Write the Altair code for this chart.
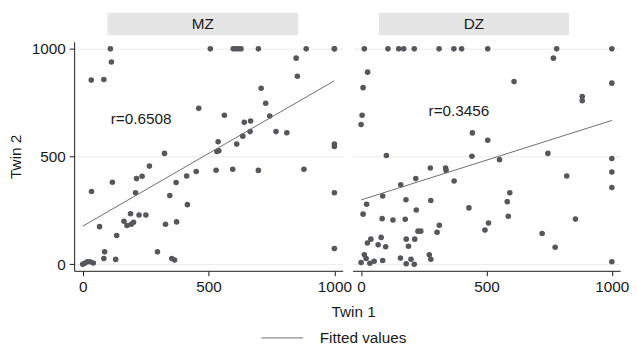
import altair as alt
import pandas as pd

# ---------------- data ----------------
panels = ["MZ", "DZ"]

mz_x = [110, 114, 34, 84, 507, 598, 609, 619, 629, 698, 888, 1000, 1000,
        848, 853, 709, 727, 743, 811, 768, 665, 667, 642, 636, 612, 563, 538, 533, 541, 461,
        530, 596, 698, 879, 1000, 1000, 1000, 1000,
        325, 265, 236, 214, 118, 210, 35, 67, 164, 190, 176, 193, 202, 224, 251, 135,
        371, 413, 451, 346, 416, 329, 373, 87, 84, 131, 297, 354, 365, 0, 8, 18, 29, 42]
mz_y = [1000, 939, 855, 858, 1000, 1000, 1000, 1000, 1000, 1000, 1000, 1000, 1000,
        957, 873, 817, 748, 688, 611, 616, 616, 665, 659, 595, 558, 692, 569, 524, 527, 724,
        437, 441, 436, 441, 558, 547, 332, 73,
        515, 456, 409, 398, 381, 332, 338, 175, 200, 235, 180, 186, 195, 229, 229, 134,
        380, 410, 431, 319, 277, 186, 197, 58, 27, 23, 58, 27, 20, 0, 5, 12, 12, 6]

dz_x = [13, 107, 150, 170, 212, 311, 370, 401, 505, 780, 1000,
        767, 26, 8, 610, 1000, 4, 0, 882, 882, 444, 505, 101, 442, 552, 745,
        1000, 1000, 1000, 820, 276, 337, 339, 371, 218, 158, 86, 22, 8, 179, 278,
        220, 430, 593, 583, 587, 855, 84, 127, 176, 508, 494, 312, 303, 227, 238,
        722, 774, 39, 25, 80, 68, 98, 180, 214, 189, 13, 20, 0, 35, 52, 86, 157,
        199, 180, 212, 272, 278, 1000]
dz_y = [1000, 1000, 1000, 1000, 1000, 1000, 1000, 1000, 1000, 1000, 1000,
        957, 892, 820, 848, 841, 692, 649, 779, 759, 610, 576, 505, 502, 486, 515,
        491, 428, 357, 410, 447, 447, 436, 387, 398, 369, 317, 279, 233, 300, 296,
        252, 262, 332, 291, 223, 210, 212, 206, 209, 192, 159, 181, 149, 154, 154,
        143, 79, 117, 99, 125, 91, 82, 117, 117, 84, 44, 27, 8, 5, 14, 18, 29,
        24, 3, 0, 44, 24, 12]

fit_x = [0, 1000]
mz_fit_y = [177, 852]
dz_fit_y = [299, 668]

r_labels = ["r=0.6508", "r=0.3456"]
r_pos_x = [111, 269]
r_pos_y = [676, 713]

tick_values = [0, 500, 1000]
x_title = "Twin 1"
y_title = "Twin 2"
legend_label = "Fitted values"

# ---------------- style ----------------
FONT = "Liberation Sans"
PT = "#55575b"
LINE = "#6e6e6e"
GRID = "#ebebeb"
INK = "#1a1a1a"
STRIP = "#e5e5e5"
FS = 15.5

xdom = [-34, 1033]
ydom = [-30, 1033]
H = 232


def panel(name, xs, ys, fy, rlab, rx, ry, width, sx, sx2, first):
    pts = pd.DataFrame({"t1": xs, "t2": ys})
    fit = pd.DataFrame({"t1": fit_x, "t2": fy})
    xsc = alt.Scale(domain=xdom, nice=False, zero=False)
    ysc = alt.Scale(domain=ydom, nice=False, zero=False)
    xax = alt.Axis(values=tick_values, title=None, labelFlush=False, grid=False,
                   labelOverlap=False, format="d")
    if first:
        yax = alt.Axis(values=tick_values, title=y_title, grid=True,
                       labelOverlap=False, format="d")
    else:
        yax = alt.Axis(values=tick_values, title=None, labels=False, ticks=False,
                       domain=False, grid=True)

    layers = []
    layers.append(
        alt.Chart(pts).mark_circle(size=32, color=PT, opacity=1).encode(
            x=alt.X("t1:Q", scale=xsc, axis=xax),
            y=alt.Y("t2:Q", scale=ysc, axis=yax),
        )
    )
    layers.append(
        alt.Chart(fit).mark_line(color=LINE, strokeWidth=1).encode(
            x="t1:Q", y="t2:Q"
        )
    )
    layers.append(
        alt.Chart(pd.DataFrame({"t1": [rx], "t2": [ry], "lab": [rlab]}))
        .mark_text(align="left", baseline="middle", fontSize=FS, font=FONT, color=INK)
        .encode(x="t1:Q", y="t2:Q", text="lab:N")
    )
    sdf = pd.DataFrame({"p": [name]})
    layers.append(
        alt.Chart(sdf).mark_rect(color=STRIP).encode(
            x=alt.value(sx), x2=alt.value(sx2), y=alt.value(-29.3), y2=alt.value(-6.7)
        )
    )
    layers.append(
        alt.Chart(sdf).mark_text(align="center", baseline="middle", fontSize=FS,
                                 font=FONT, color=INK).encode(
            x=alt.value((sx + sx2) / 2), y=alt.value(-17.5), text="p:N"
        )
    )
    if first:
        layers.append(
            alt.Chart(pd.DataFrame({"t": [x_title]})).mark_text(
                align="center", baseline="middle", fontSize=FS, font=FONT, color=INK
            ).encode(x=alt.value(283), y=alt.value(274), text="t:N")
        )
        layers.append(
            alt.Chart(pd.DataFrame({"t": [legend_label]})).mark_rule(
                color=LINE, strokeWidth=1
            ).encode(x=alt.value(189.7), x2=alt.value(232), y=alt.value(300))
        )
        layers.append(
            alt.Chart(pd.DataFrame({"t": [legend_label]})).mark_text(
                align="left", baseline="middle", fontSize=FS, font=FONT, color=INK
            ).encode(x=alt.value(248.7), y=alt.value(300), text="t:N")
        )
    return alt.layer(*layers).properties(width=width, height=H)


left = panel(panels[0], mz_x, mz_y, mz_fit_y, r_labels[0], r_pos_x[0], r_pos_y[0],
             272, 33.7, 227, True)
right = panel(panels[1], dz_x, dz_y, dz_fit_y, r_labels[1], r_pos_x[1], r_pos_y[1],
              271, 26.7, 219.3, False)

chart = alt.hconcat(left, right, spacing=10, bounds="flush").properties(
    padding={"left": 0, "top": 2, "right": 0, "bottom": 0}
).configure_view(stroke=None).configure_axis(
    labelFont=FONT, labelFontSize=FS, labelColor=INK,
    titleFont=FONT, titleFontSize=FS, titleFontWeight="normal", titleColor=INK,
    domainColor=INK, tickColor=INK, tickSize=5, labelPadding=4,
    gridColor=GRID, titlePadding=8,
)

chart.save("out.html", embed_options={"renderer": "svg", "actions": False})
